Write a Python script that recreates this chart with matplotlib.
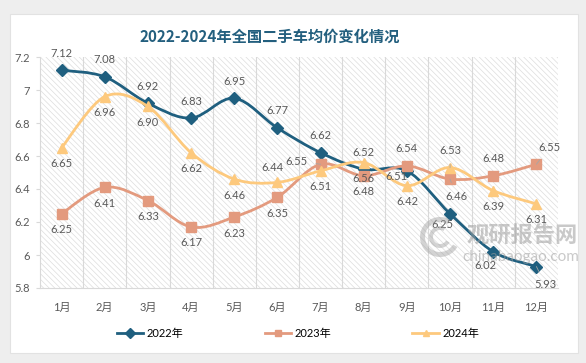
import matplotlib
matplotlib.use("Agg")
import matplotlib.pyplot as plt
from matplotlib.path import Path
from matplotlib.patches import PathPatch, Rectangle, Wedge
from matplotlib.lines import Line2D
import numpy as np

plt.rcParams['font.family'] = ['Lato', 'Noto Sans CJK SC', 'DejaVu Sans']
plt.rcParams['hatch.linewidth'] = 0.5

months = ["1月", "2月", "3月", "4月", "5月", "6月", "7月", "8月", "9月", "10月", "11月", "12月"]
y2022 = [7.12, 7.08, 6.92, 6.83, 6.95, 6.77, 6.62, 6.52, 6.51, 6.25, 6.02, 5.93]
y2023 = [6.25, 6.41, 6.33, 6.17, 6.23, 6.35, 6.55, 6.48, 6.54, 6.46, 6.48, 6.55]
y2024 = [6.65, 6.96, 6.90, 6.62, 6.46, 6.44, 6.51, 6.56, 6.42, 6.53, 6.39, 6.31]
series_names = ["2022年", "2023年", "2024年"]
yticks = [5.8, 6.0, 6.2, 6.4, 6.6, 6.8, 7.0, 7.2]
ytick_labels = ["5.8", "6", "6.2", "6.4", "6.6", "6.8", "7", "7.2"]
title = "2022-2024年全国二手车均价变化情况"

colors = ["#1F5F7F", "#E39A7E", "#FDC97D"]
markers = ["D", "s", "^"]
msizes = [6, 7, 7]

# label offsets in pixels (dx, dy) and whether to draw a leader line
A, B = (0, 17), (0, -16)
off2022 = [A, A, A, A, A, A, A, A, (-10, -6), (-8, -11), (-8, -14), (9, -18)]
off2023 = [B, B, B, B, B, B, (-24, 3), B, A, (6, -17), A, (13, 17)]
off2024 = [B, B, B, B, B, (-5, 15), B, B, B, A, B, B]
leaders = {(1, 6), (1, 9), (1, 11), (0, 11), (2, 9)}

W, H = 586, 363
fig = plt.figure(figsize=(W / 100, H / 100), dpi=100, facecolor="#EEEEEE")
# white card
fig.patches.append(Rectangle((10 / W, 1 - 353 / H), 568 / W, 339 / H,
                             transform=fig.transFigure, facecolor="white",
                             edgecolor="#E2E2E2", linewidth=0.8, zorder=-5))

ax = fig.add_axes([40 / W, 1 - 288 / H, 518 / W, 231 / H])
ax.set_facecolor("none")
ax.add_patch(Rectangle((0, 0), 1, 1, transform=ax.transAxes, facecolor="white",
                       edgecolor="#DDDDDD", hatch="\\\\\\\\\\\\", linewidth=0, zorder=0))

x = np.arange(len(months))
ax.set_xlim(-0.5, len(months) - 0.5)
ax.set_ylim(5.8, 7.2)

for b in np.arange(0.5, len(months) - 0.5, 1):
    ax.axvline(b, color="#D9D9D9", lw=0.8, zorder=1)


def smooth_path(xs, ys):
    pts = np.column_stack([xs, ys])
    n = len(pts)
    verts = [pts[0]]
    codes = [Path.MOVETO]
    for i in range(n - 1):
        p0 = pts[i - 1] if i > 0 else pts[i]
        p1 = pts[i]
        p2 = pts[i + 1]
        p3 = pts[i + 2] if i + 2 < n else pts[i + 1]
        c1 = p1 + (p2 - p0) / 6.0
        c2 = p2 - (p3 - p1) / 6.0
        verts += [c1, c2, p2]
        codes += [Path.CURVE4] * 3
    return Path(verts, codes)


all_series = [y2022, y2023, y2024]
all_offs = [off2022, off2023, off2024]
for si, (ys, col, mk, ms) in enumerate(zip(all_series, colors, markers, msizes)):
    ax.add_patch(PathPatch(smooth_path(x, ys), facecolor="none", edgecolor=col,
                           lw=2.0, zorder=3 + si, capstyle="round"))
    ax.plot(x, ys, linestyle="none", marker=mk, markersize=ms, color=col,
            markeredgecolor=col, zorder=4 + si)
    for i, v in enumerate(ys):
        dx, dy = all_offs[si][i]
        ax.annotate(f"{v:.2f}", (x[i], v), xytext=(dx, dy), textcoords="offset pixels",
                    ha="center", va="center", fontsize=8, color="#595959", zorder=10,
                    arrowprops=(dict(arrowstyle="-", color="#A6A6A6", lw=0.6,
                                     shrinkA=4, shrinkB=4) if (si, i) in leaders else None))

ax.set_yticks(yticks)
ax.set_yticklabels(ytick_labels)
ax.set_xticks(x)
ax.set_xticklabels(months)
ax.tick_params(axis="y", length=3, color="#D9D9D9", labelsize=8, labelcolor="#595959", pad=4)
ax.tick_params(axis="x", length=0, labelsize=8, labelcolor="#595959", pad=10)
for s in ["top", "right"]:
    ax.spines[s].set_visible(False)
ax.spines["left"].set_color("#D9D9D9")
ax.spines["bottom"].set_color("#D9D9D9")
ax.spines["left"].set_linewidth(0.8)
ax.spines["bottom"].set_linewidth(0.8)

fig.text(270 / W, 1 - 37 / H, title, ha="center", va="center", fontsize=11,
         fontweight="bold", color="#235F7E", family=["Noto Sans CJK SC", "DejaVu Sans"])

# watermark
for r, w in [(20, 5), (11, 4)]:
    fig.patches.append(Wedge((440, H - 237), r, 60, 330, width=w, transform=None,
                             facecolor="#9E9E9E", alpha=0.45, zorder=20))
fig.text(522 / W, 1 - 236 / H, "观研报告网", ha="center", va="center", fontsize=16,
         fontweight="bold", color="#9E9E9E", alpha=0.55, family=["Noto Sans CJK SC"], zorder=20)
fig.text(521 / W, 1 - 257 / H, "chinabaogao.com", ha="center", va="center", fontsize=11,
         color="#9E9E9E", alpha=0.55, zorder=20)

handles = [Line2D([0], [0], color=c, lw=2, marker=m, markersize=5) for c, m in zip(colors, markers)]
fig.legend(handles, series_names, loc="center", bbox_to_anchor=(298 / W, 1 - 333 / H),
           ncol=3, frameon=False, fontsize=8, handlelength=2.4, handletextpad=0.3,
           columnspacing=7.3, labelcolor="black")

fig.savefig("out.png", dpi=100, facecolor=fig.get_facecolor())
